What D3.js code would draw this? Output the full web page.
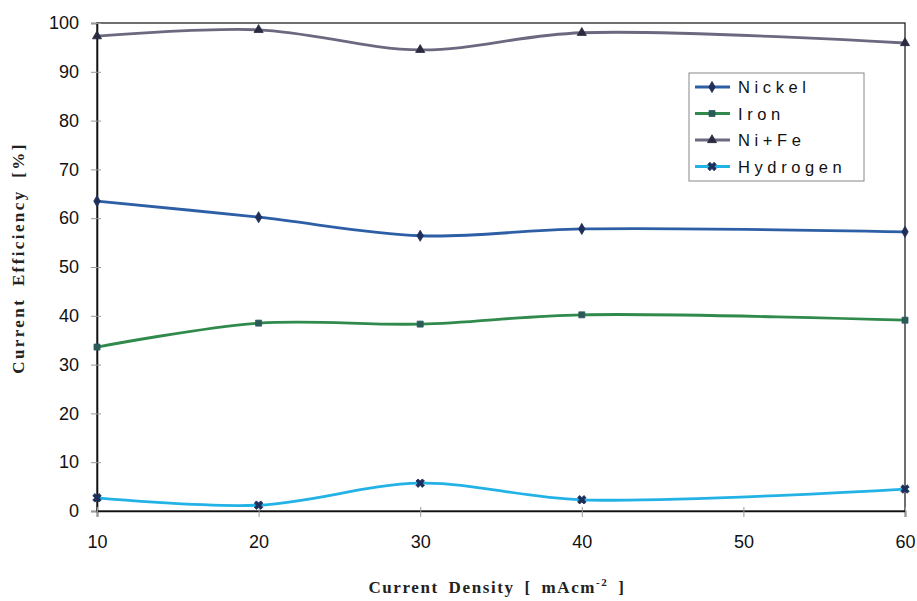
<!DOCTYPE html>
<html><head><meta charset="utf-8">
<script src="https://cdn.jsdelivr.net/npm/d3@7"></script>
<style>body{margin:0;background:#fff}</style>
</head><body>
<svg id="c" width="917" height="601"></svg>
<script>
const xValues = [10, 20, 30, 40, 60];
const nickel = [63.5, 60.2, 56.4, 57.8, 57.2];
const iron = [33.6, 38.5, 38.3, 40.2, 39.1];
const niFe = [97.3, 98.6, 94.5, 98.0, 95.9];
const hydrogen = [2.7, 1.2, 5.7, 2.3, 4.5];
const xTicks = [10, 20, 30, 40, 50, 60];
const yTicks = [0, 10, 20, 30, 40, 50, 60, 70, 80, 90, 100];
const seriesNames = ["Nickel", "Iron", "Ni+Fe", "Hydrogen"];

const series = [
  {name: seriesNames[0], values: nickel, color: "#2d5fa6", mark: "#1f2f5a", sym: d3.symbolDiamond},
  {name: seriesNames[1], values: iron, color: "#2f8a4c", mark: "#2c5a5a", sym: d3.symbolSquare},
  {name: seriesNames[2], values: niFe, color: "#6c6880", mark: "#2a2a40", sym: d3.symbolTriangle},
  {name: seriesNames[3], values: hydrogen, color: "#22b2e6", mark: "#1c2f5c", sym: d3.symbolCross}
];

const svg = d3.select("#c");
const L = 97, R = 905, T = 23, B = 511;
const x = d3.scaleLinear().domain([10, 60]).range([L, R]);
const y = d3.scaleLinear().domain([0, 100]).range([B, T]);

svg.append("rect").attr("x", L).attr("y", T).attr("width", R - L).attr("height", B - T)
  .attr("fill", "none").attr("stroke", "#222").attr("stroke-width", 1.3);

const ya = svg.append("g").attr("transform", `translate(${L},0)`)
  .call(d3.axisLeft(y).tickValues(yTicks).tickSize(6).tickPadding(12));
ya.select(".domain").attr("stroke", "#111").attr("stroke-width", 1.6);
ya.selectAll(".tick line").attr("stroke", "#999").attr("x2", -6).attr("x1", 4);
ya.selectAll(".tick text").attr("font-family", "Liberation Sans, Arial, sans-serif").attr("font-size", 18).attr("fill", "#111");

const xa = svg.append("g").attr("transform", `translate(0,${B})`)
  .call(d3.axisBottom(x).tickValues(xTicks).tickSize(6).tickPadding(18));
xa.select(".domain").attr("stroke", "#111").attr("stroke-width", 1.6);
xa.selectAll(".tick line").attr("stroke", "#999").attr("y1", -4).attr("y2", 6);
xa.selectAll(".tick text").attr("font-family", "Liberation Sans, Arial, sans-serif").attr("font-size", 18).attr("fill", "#111");

const line = d3.line().x((d, i) => x(xValues[i])).y(d => y(d)).curve(d3.curveCatmullRom.alpha(0.5));
series.forEach(s => {
  svg.append("path").datum(s.values).attr("d", line)
    .attr("fill", "none").attr("stroke", s.color).attr("stroke-width", 2.8);
});
series.forEach(s => {
  const size = s.sym === d3.symbolCross ? 45 : 36;
  svg.append("g").selectAll("path").data(s.values).join("path")
    .attr("transform", (d, i) => `translate(${x(xValues[i])},${y(d)})` + (s.sym === d3.symbolCross ? " rotate(45)" : ""))
    .attr("d", d3.symbol(s.sym, size))
    .attr("fill", s.mark).attr("stroke", s.mark).attr("stroke-width", 0.8);
});

const lg = svg.append("g");
lg.append("rect").attr("x", 689).attr("y", 73).attr("width", 175).attr("height", 108)
  .attr("fill", "#fff").attr("stroke", "#888").attr("stroke-width", 1);
series.forEach((s, i) => {
  const yy = 87 + i * 26.5;
  lg.append("line").attr("x1", 695).attr("x2", 730).attr("y1", yy).attr("y2", yy)
    .attr("stroke", s.color).attr("stroke-width", 3);
  lg.append("path").attr("transform", `translate(712,${yy})` + (s.sym === d3.symbolCross ? " rotate(45)" : ""))
    .attr("d", d3.symbol(s.sym, s.sym === d3.symbolCross ? 45 : 36))
    .attr("fill", s.mark).attr("stroke", s.mark).attr("stroke-width", 0.8);
  lg.append("text").attr("x", 738).attr("y", yy + 6).text(s.name)
    .attr("font-family", "Liberation Sans, Arial, sans-serif").attr("font-size", 16.5)
    .attr("letter-spacing", 4.6).attr("fill", "#111");
});

svg.append("text").attr("transform", "translate(24,258) rotate(-90)").attr("text-anchor", "middle")
  .attr("font-family", "Liberation Serif, Times New Roman, serif").attr("font-weight", "bold")
  .attr("font-size", 17).attr("letter-spacing", 2.4).attr("word-spacing", 5).attr("fill", "#222").text("Current Efficiency [%]");
const xt = svg.append("text").attr("x", 497).attr("y", 593).attr("text-anchor", "middle")
  .attr("font-family", "Liberation Serif, Times New Roman, serif").attr("font-weight", "bold")
  .attr("font-size", 17).attr("letter-spacing", 1.6).attr("word-spacing", 4).attr("fill", "#222");
xt.append("tspan").text("Current Density [ mAcm");
xt.append("tspan").attr("dy", -7).attr("font-size", 11).text("-2");
xt.append("tspan").attr("dy", 7).text(" ]");
</script>
</body></html>
